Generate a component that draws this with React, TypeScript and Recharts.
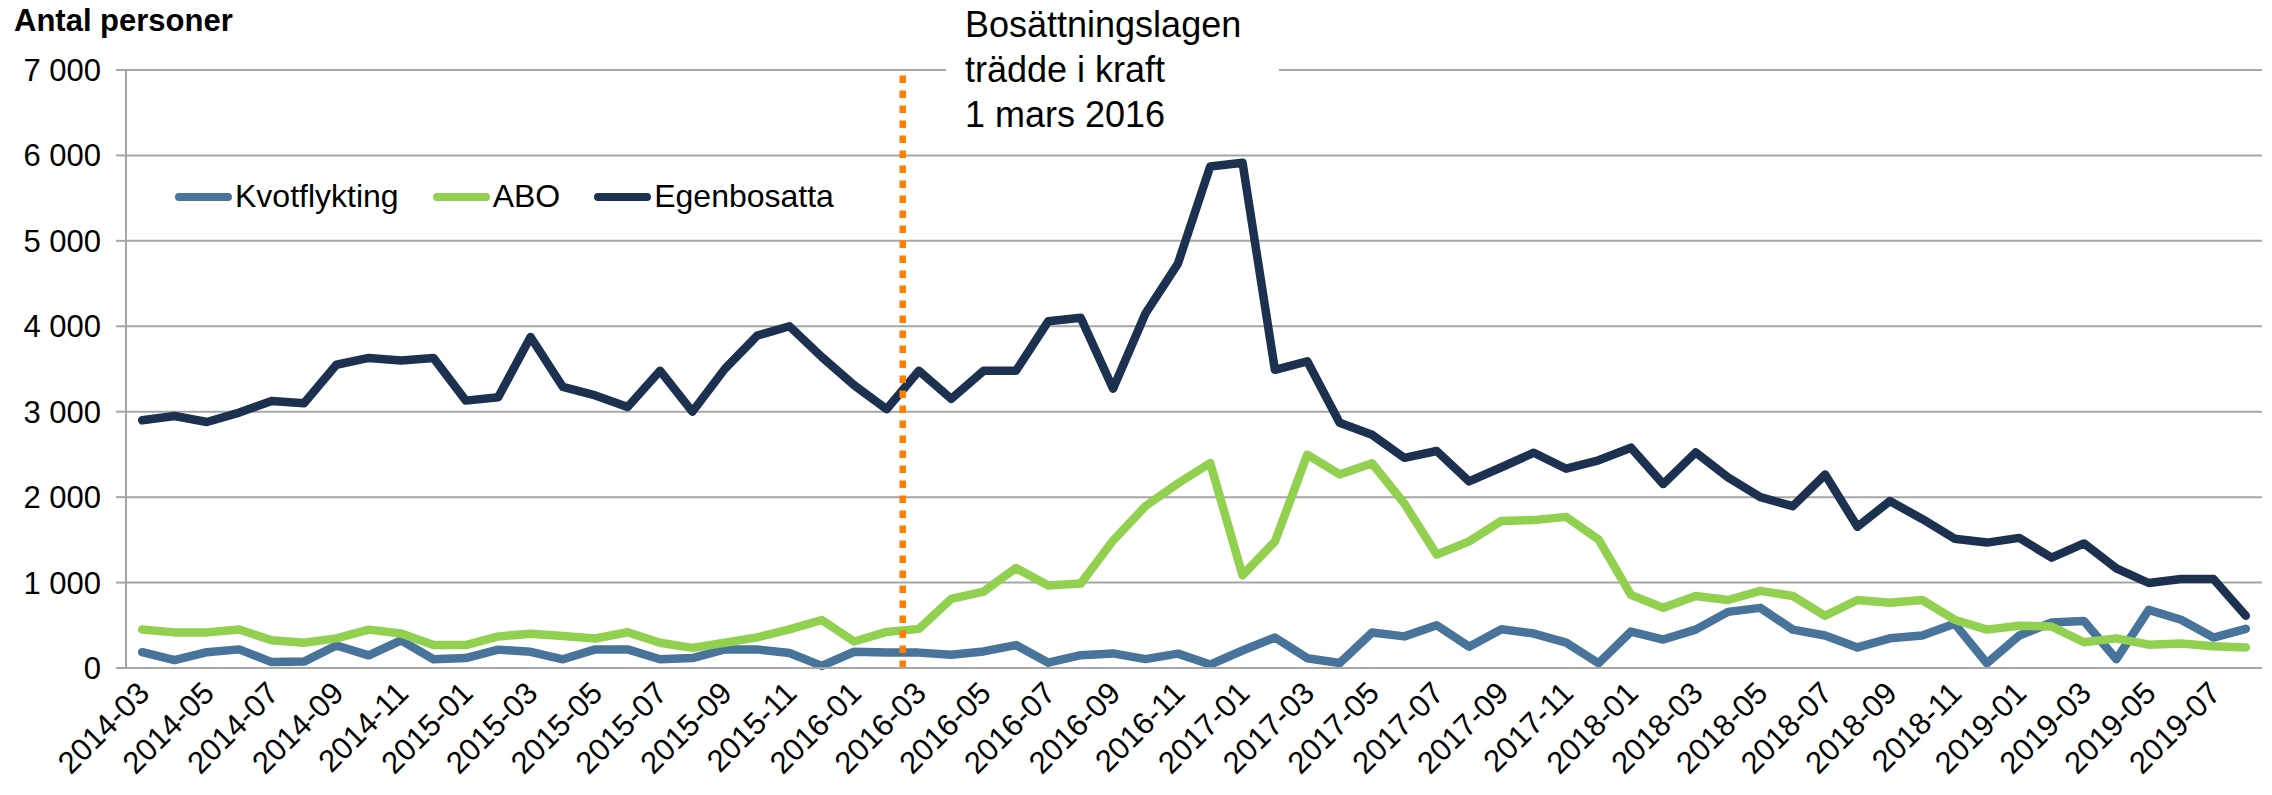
import { LineChart, Line, XAxis, YAxis, CartesianGrid, ReferenceLine, Legend } from 'recharts'

const FONT = '"Liberation Sans", Arial, sans-serif'

const MONTHS = [
  '2014-03', '2014-04', '2014-05', '2014-06', '2014-07', '2014-08', '2014-09', '2014-10', '2014-11', '2014-12',
  '2015-01', '2015-02', '2015-03', '2015-04', '2015-05', '2015-06', '2015-07', '2015-08', '2015-09', '2015-10', '2015-11', '2015-12',
  '2016-01', '2016-02', '2016-03', '2016-04', '2016-05', '2016-06', '2016-07', '2016-08', '2016-09', '2016-10', '2016-11', '2016-12',
  '2017-01', '2017-02', '2017-03', '2017-04', '2017-05', '2017-06', '2017-07', '2017-08', '2017-09', '2017-10', '2017-11', '2017-12',
  '2018-01', '2018-02', '2018-03', '2018-04', '2018-05', '2018-06', '2018-07', '2018-08', '2018-09', '2018-10', '2018-11', '2018-12',
  '2019-01', '2019-02', '2019-03', '2019-04', '2019-05', '2019-06', '2019-07', '2019-08',
]

const KVOTFLYKTING = [
  185, 93, 185, 218, 69, 75, 264, 148, 324, 102,
  116, 215, 190, 102, 218, 218, 102, 116, 218, 218, 175, 25,
  190, 180, 180, 155, 194, 268, 62, 150, 171, 104, 168, 40,
  205, 357, 115, 58, 415, 370, 500, 250, 453, 403, 296, 56,
  426, 333, 449, 657, 704, 449, 380, 241, 347, 380, 519, 56,
  380, 532, 551, 102, 681, 565, 356, 458,
]

const ABO = [
  450, 417, 417, 450, 324, 296, 347, 449, 403, 268,
  268, 370, 400, 375, 345, 418, 295, 235, 295, 358, 452, 562,
  310, 422, 458, 809, 895, 1170, 966, 988, 1492, 1895, 2160, 2400,
  1085, 1480, 2497, 2266, 2397, 1926, 1327, 1482, 1722, 1731, 1769, 1505,
  856, 704, 843, 796, 903, 843, 611, 796, 764, 796, 565, 449,
  495, 486, 301, 347, 273, 287, 255, 241,
]

const EGENBOSATTA = [
  2900, 2950, 2880, 2990, 3125, 3100, 3550, 3630, 3600, 3630,
  3130, 3170, 3875, 3290, 3190, 3055, 3480, 3000, 3500, 3890, 4000, 3640,
  3310, 3030, 3480, 3150, 3480, 3480, 4060, 4100, 3270, 4150, 4730, 5870,
  5915, 3490, 3590, 2870, 2730, 2460, 2540, 2185, 2350, 2520, 2333, 2431,
  2579, 2153, 2523, 2231, 2000, 1894, 2264, 1653, 1954, 1745, 1514, 1468,
  1523, 1292, 1458, 1167, 995, 1042, 1042, 611,
]

const Y_TICKS = [0, 1000, 2000, 3000, 4000, 5000, 6000, 7000]

const SERIES = [
  { key: 'kvot', name: 'Kvotflykting', color: '#48739b' },
  { key: 'abo', name: 'ABO', color: '#92d050' },
  { key: 'egen', name: 'Egenbosatta', color: '#1c3050' },
]

const data = MONTHS.map((month, i) => ({
  idx: i,
  month,
  kvot: KVOTFLYKTING[i],
  abo: ABO[i],
  egen: EGENBOSATTA[i],
}))

// tick marks sit between months, labels on every second month
const boundaryTicks = Array.from({ length: MONTHS.length + 1 }, (_, k) => k - 0.5)
const labelTicks = MONTHS.map((_, i) => i).filter(i => i % 2 === 0)
const lawIndex = MONTHS.indexOf('2016-03') - 0.5

const formatThousands = (v: number) => String(v).replace(/\B(?=(\d{3})+(?!\d))/g, ' ')

const MonthTick = ({ x, y, payload }: any) => {
  const tx = x + 9
  const ty = y + 17
  return (
    <text
      x={tx}
      y={ty}
      textAnchor="end"
      transform={`rotate(-45 ${tx} ${ty})`}
      fontSize={31}
      fontFamily={FONT}
      fill="#000"
    >
      {MONTHS[payload.value]}
    </text>
  )
}

// keep the legend in series order (recharts sorts payload by name otherwise)
const renderLegend = () => (
  <div style={{ display: 'flex', alignItems: 'center', fontFamily: FONT }}>
    {SERIES.map(s => (
      <div key={s.key} style={{ display: 'flex', alignItems: 'center', marginRight: 34 }}>
        <svg width={57} height={12}>
          <line x1={4} y1={6} x2={53} y2={6} stroke={s.color} strokeWidth={8} strokeLinecap="round" />
        </svg>
        <span style={{ fontSize: 32, marginLeft: 3, color: '#000', whiteSpace: 'nowrap' }}>{s.name}</span>
      </div>
    ))}
  </div>
)

export default function App() {
  return (
    <div style={{ position: 'absolute', left: 0, top: 0, width: 2272, height: 795, background: '#fff', fontFamily: FONT }}>
      <LineChart width={2272} height={795} data={data} margin={{ top: 70, right: 10, bottom: 0, left: 0 }}>
        <CartesianGrid vertical={false} stroke="#a6a6a6" strokeWidth={2} />
        <XAxis
          dataKey="idx"
          type="number"
          domain={[-0.5, MONTHS.length - 0.5]}
          ticks={boundaryTicks}
          interval={0}
          tick={false}
          tickSize={10}
          height={10}
          axisLine={{ stroke: '#a6a6a6', strokeWidth: 2 }}
          tickLine={{ stroke: '#a6a6a6', strokeWidth: 2 }}
        />
        <XAxis
          xAxisId="lbl"
          dataKey="idx"
          type="number"
          domain={[-0.5, MONTHS.length - 0.5]}
          ticks={labelTicks}
          interval={0}
          tick={<MonthTick />}
          tickSize={0}
          tickMargin={0}
          height={117}
          axisLine={false}
          tickLine={false}
        />
        <YAxis
          domain={[0, 7000]}
          ticks={Y_TICKS}
          interval={0}
          width={126}
          tickSize={10}
          tickMargin={15}
          tickFormatter={formatThousands}
          tick={{ fontSize: 31, fill: '#000', fontFamily: FONT }}
          axisLine={{ stroke: '#a6a6a6', strokeWidth: 2 }}
          tickLine={{ stroke: '#a6a6a6', strokeWidth: 2 }}
        />
        <Legend
          content={renderLegend}
          layout="vertical"
          align="center"
          verticalAlign="middle"
          wrapperStyle={{ top: 178, left: 175, width: 800 }}
        />
        {SERIES.map(s => (
          <Line
            key={s.key}
            dataKey={s.key}
            name={s.name}
            stroke={s.color}
            strokeWidth={8.5}
            strokeLinejoin="round"
            strokeLinecap="round"
            dot={false}
            activeDot={false}
            isAnimationActive={false}
          />
        ))}
        <ReferenceLine x={lawIndex} stroke="#ff7f00" strokeWidth={6.5} strokeDasharray="7.5 7.5" />
      </LineChart>
      <div style={{ position: 'absolute', left: 14, top: 3, fontSize: 31, fontWeight: 'bold', color: '#000', whiteSpace: 'nowrap' }}>
        Antal personer
      </div>
      <div
        style={{
          position: 'absolute',
          left: 946,
          top: 2,
          width: 314,
          height: 133,
          paddingLeft: 19,
          background: '#fff',
          fontSize: 36,
          lineHeight: '45px',
          color: '#000',
        }}
      >
        <div>Bosättningslagen</div>
        <div>trädde i kraft</div>
        <div>1 mars 2016</div>
      </div>
    </div>
  )
}
